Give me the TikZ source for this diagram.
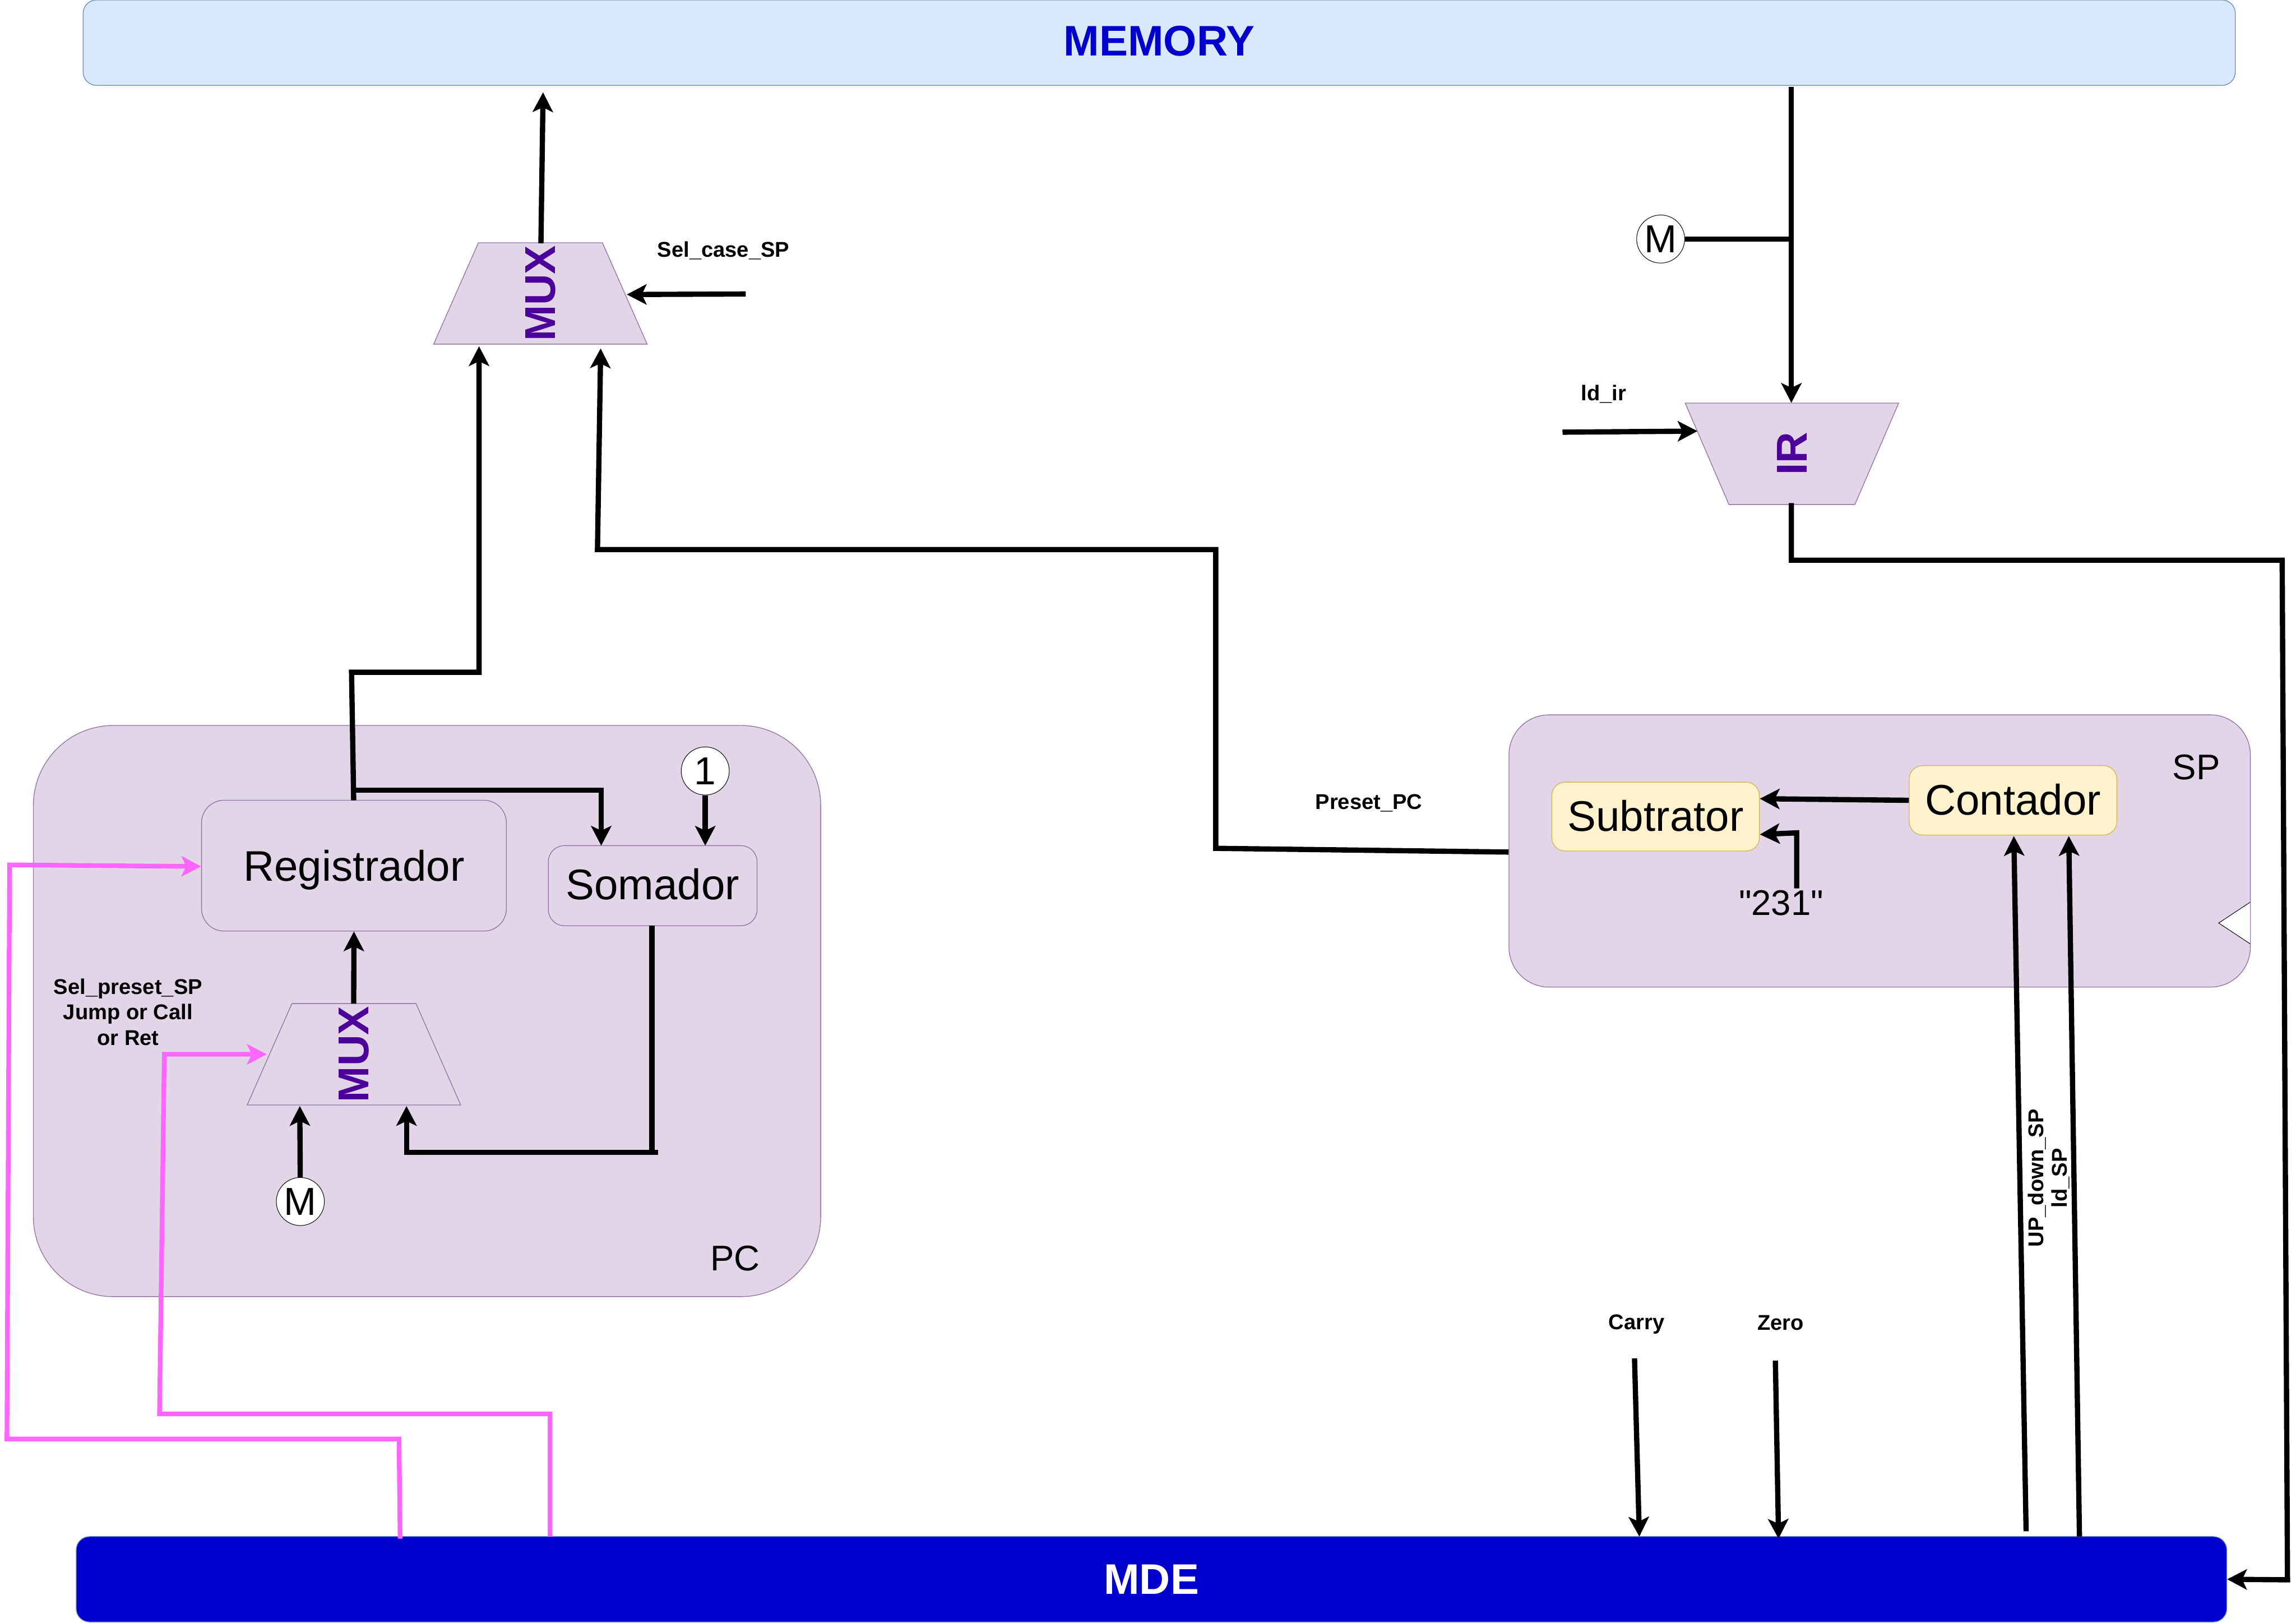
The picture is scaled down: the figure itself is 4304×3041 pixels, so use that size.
\documentclass[tikz,border=0pt]{standalone}
\usepackage{fontspec}
\setmainfont{Liberation Sans}
\newfontfamily\valfont{Liberation Sans}
\usetikzlibrary{arrows.meta,shapes.geometric}
\definecolor{boxfill}{HTML}{E1D5E7}
\definecolor{boxline}{HTML}{9673A6}
\definecolor{cellfill}{HTML}{FFF2CC}
\definecolor{cellline}{HTML}{D6B656}
\definecolor{memfill}{HTML}{DAE8FC}
\definecolor{memline}{HTML}{6C8EBF}
\definecolor{mdeblue}{HTML}{0000CC}
\definecolor{muxtext}{HTML}{4C0099}
\definecolor{ctrlpink}{HTML}{FF66FF}
\tikzset{
  bigtext/.style={font=\fontsize{22.8}{27}\selectfont},
  midtext/.style={font=\fontsize{19}{23}\selectfont},
  sigtext/.style={font=\fontsize{11.4}{13.7}\selectfont\bfseries,align=center},
  bustext/.style={font=\fontsize{22.8}{27}\selectfont\bfseries},
  bloc/.style={draw=boxline,fill=boxfill,line width=0.4pt,inner sep=0pt},
  cell/.style={draw=cellline,fill=cellfill,line width=0.4pt,inner sep=0pt},
  muxbox/.style={trapezium,trapezium stretches body=true,trapezium left angle=65,trapezium right angle=65,
    draw=boxline,fill=boxfill,line width=0.4pt,inner sep=0pt,outer sep=0pt,minimum width=4cm,minimum height=1.9cm,
    font=\fontsize{23}{27}\selectfont\bfseries,text=muxtext},
  const/.style={circle,draw=black,fill=white,line width=0.3pt,minimum size=0.9cm,inner sep=0pt,font=\fontsize{20.8}{25}\selectfont},
  wire/.style={line width=2.8pt,draw=black},
  bus/.style={wire,-{Stealth[length=10.5pt,width=10.8pt,inset=2.5pt]}},
  ctrl/.style={line width=2.5pt,draw=ctrlpink,-{Stealth[length=10.5pt,width=10.8pt,inset=2.5pt]}},
}
\begin{document}
\begin{tikzpicture}[x=0.01cm,y=-0.01cm]
  \useasboundingbox (0,0) rectangle (4304,3041);
  % large blocks
  \node[bloc,rounded corners=1.5cm,minimum width=14.75cm,minimum height=10.7cm] (pc) at (800.5,1895) {};
  \node[bloc,rounded corners=0.75cm,minimum width=13.89cm,minimum height=5.1cm] (sp) at (3523.5,1595) {};
  \node[draw=memline,fill=memfill,rounded corners=0.25cm,line width=0.4pt,minimum width=40.32cm,minimum height=1.6cm,
    inner sep=0pt,bustext,text=mdeblue,text depth=1.7pt] (memory) at (2173,80) {MEMORY};
  \node[draw=memline,fill=mdeblue,rounded corners=0.25cm,line width=0.4pt,minimum width=40.29cm,minimum height=1.6cm,
    inner sep=0pt,bustext,text=white] (mde) at (2158.5,2960) {MDE};
  % inside PC
  \node[bloc,rounded corners=0.42cm,minimum width=5.71cm,minimum height=2.45cm,bigtext,text height=21.2pt] (reg) at (663.5,1622.5) {Registrador};
  \node[bloc,rounded corners=0.3cm,minimum width=3.91cm,minimum height=1.5cm,bigtext,text depth=1.7pt] (som) at (1223.5,1660) {Somador};
  \node[muxbox] (pcmux) at (663.5,1976) {\rotatebox{90}{MUX}\hspace{0.6pt}};
  \node[const] (one) at (1322,1445) {1};
  \node[const] (pcm) at (563,2252) {M};
  \node[midtext] (pcname) at (1378,2359) {PC};
  \node[sigtext] (preset) at (240,1897) {Sel\_preset\_SP\\Jump or Call\\or Ret};
  % inside SP
  \node[cell,rounded corners=0.25cm,minimum width=3.89cm,minimum height=1.29cm,bigtext,text depth=0.8pt] (sub) at (3103.5,1530.5) {Subtrator};
  \node[cell,rounded corners=0.25cm,minimum width=3.89cm,minimum height=1.3cm,bigtext,text depth=0.8pt] (cont) at (3773.5,1500) {Contador};
  \node[midtext] (spname) at (4117,1438) {SP};
  \node[midtext] (val) at (3339,1692) {\valfont"231"};
  \draw[draw=black,fill=white,line width=0.3pt] (4218,1691) -- (4159,1730) -- (4218,1769);
  % mux and ir at the top
  \node[muxbox] (topmux) at (1013,550) {\rotatebox{90}{MUX}\hspace{1.7pt}};
  \node[muxbox,shape border rotate=180,trapezium left angle=44.6,trapezium right angle=44.6] (ir) at (3359,850.5) {\rotatebox{90}{IR}};
  \node[const] (irm) at (3113,448) {M};
  % signal names
  \node[sigtext] (selcase) at (1356,470) {Sel\_case\_SP};
  \node[sigtext] (ldir) at (3006,739) {ld\_ir};
  \node[sigtext] (presetpc) at (2566,1505) {Preset\_PC};
  \node[sigtext] (carry) at (3068,2482) {Carry};
  \node[sigtext] (zero) at (3338,2479) {Zero};
  \node[sigtext,rotate=90] (updown) at (3818,2208) {UP\_down\_SP};
  \node[sigtext,rotate=90] (ldsp) at (3863,2208) {ld\_SP};
  % free ends
  \coordinate (caseend) at (1398,551);
  \coordinate (irend) at (2929,810);
  \coordinate (carryend) at (3064,2546);
  \coordinate (zeroend) at (3328,2550);
  % black wires
  \draw[bus] (1014,456) -- (1018,173);
  \draw[bus] (caseend) -- (1175,552);
  \draw[bus] (663,1500) -- (659,1260) -- (898,1260) -- (898,649);
  \draw[wire] (663,1481) -- (1127,1481);
  \draw[bus] (1127,1476) -- (1127,1585);
  \draw[bus] (one) -- (1322,1585);
  \draw[bus] (663,1881) -- (reg.south);
  \draw[bus] (pcm) -- (562,2073);
  \draw[wire] (1222,1735) -- (1222,2160);
  \draw[bus] (1234,2160) -- (762,2160) -- (762,2073);
  \draw[bus] (sp.west |- 0,1597) -- (2279,1590) -- (2279,1030) -- (1120,1030) -- (1126,653);
  \draw[wire] (3358,163) -- (3358,448);
  \draw[bus] (3358,448) -- (3358,755);
  \draw[wire] (irm) -- (3358,448);
  \draw[bus] (irend) -- (3182,808);
  \draw[bus] (3358,943) -- (3358,1050) -- (4278,1050) -- (4288,2961) -- (mde.east);
  \draw[bus] (cont.west) -- (sub.east |- 0,1497);
  \draw[bus] (3368,1665) -- (3368,1561) -- (3299,1564);
  \draw[bus] (3798,2870) -- (3775,1567);
  \draw[bus] (3898,2880) -- (3878,1567);
  \draw[bus] (carryend) -- (3073,2880);
  \draw[bus] (zeroend) -- (3334,2884);
  % pink control lines
  \draw[ctrl] (750,2884) -- (748,2697) -- (13,2697) -- (18,1621) -- (reg.west |- 0,1624);
  \draw[ctrl] (1031,2880) -- (1031,2650) -- (299,2650) -- (308,1976) -- (500,1976);
\end{tikzpicture}
\end{document}
